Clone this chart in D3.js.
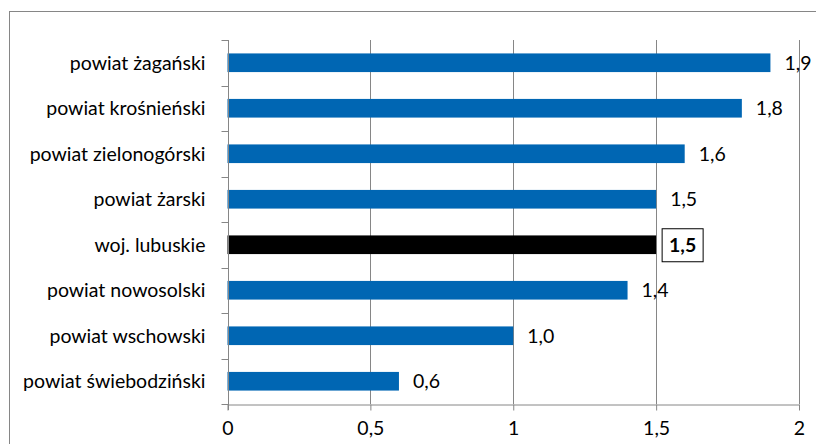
<!DOCTYPE html>
<html>
<head>
<meta charset="utf-8">
<script src="https://cdn.jsdelivr.net/npm/d3@7"></script>
<style>
  html, body { margin: 0; padding: 0; background: #fff; }
  svg { display: block; }
  text { font-family: Lato, "Open Sans", sans-serif; fill: #000; }
</style>
</head>
<body>
<svg id="chart" width="816" height="444"></svg>
<script>
// Regions (top to bottom) and their values
const categories = [
  "powiat żagański",
  "powiat krośnieński",
  "powiat zielonogórski",
  "powiat żarski",
  "woj. lubuskie",
  "powiat nowosolski",
  "powiat wschowski",
  "powiat świebodziński"
];
const values = [1.9, 1.8, 1.6, 1.5, 1.5, 1.4, 1.0, 0.6];
const highlighted = ["woj. lubuskie"];
const xTicks = [0, 0.5, 1, 1.5, 2];

const svg = d3.select("#chart");
const W = 816, H = 444;
const margin = { left: 227.5, right: 17, top: 40, bottom: 40 };
const FS = "19.5px";

const fmt = v => d3.format(".1f")(v).replace(".", ",");
const fmtTick = v => String(v).replace(".", ",");

// outer chart frame
svg.append("rect")
  .attr("x", 9.5).attr("y", 11.5)
  .attr("width", W).attr("height", H)
  .attr("fill", "none").attr("stroke", "#868686").attr("stroke-width", 1);

const x = d3.scaleLinear().domain([0, 2]).range([margin.left, W - margin.right]);
const y = d3.scaleBand().domain(categories)
  .range([margin.top, H - margin.bottom])
  .paddingInner(0.59).paddingOuter(0.295);
const yOuter = d3.scaleBand().domain(categories).range([margin.top, H - margin.bottom]);

const gridColor = "#868686";

// vertical gridlines
svg.append("g").selectAll("line")
  .data(xTicks.filter(t => t > 0))
  .join("line")
  .attr("x1", d => Math.round(x(d)) + 0.5).attr("x2", d => Math.round(x(d)) + 0.5)
  .attr("y1", margin.top).attr("y2", H - margin.bottom)
  .attr("stroke", gridColor);

// bars
svg.append("g").selectAll("rect")
  .data(categories)
  .join("rect")
  .attr("x", x(0))
  .attr("y", d => y(d))
  .attr("width", (d, i) => x(values[i]) - x(0))
  .attr("height", y.bandwidth())
  .attr("fill", d => highlighted.includes(d) ? "#000000" : "#0066b3");

// x axis
const xAxis = svg.append("g")
  .attr("transform", `translate(0,${Math.round(H - margin.bottom) + 0.5})`)
  .call(d3.axisBottom(x).tickValues(xTicks).tickFormat(fmtTick).tickSize(6).tickPadding(11).tickSizeOuter(0));
xAxis.select(".domain").attr("stroke", gridColor);
xAxis.selectAll(".tick line").attr("stroke", gridColor);
xAxis.selectAll("text").style("font-size", FS).style("font-family", "Lato, 'Open Sans', sans-serif");

// y axis with ticks on category boundaries
const yAxisG = svg.append("g").attr("transform", `translate(${Math.round(margin.left) + 0.5},0)`);
yAxisG.append("line")
  .attr("y1", margin.top).attr("y2", H - margin.bottom + 6)
  .attr("stroke", gridColor);
const bounds = categories.map(c => yOuter(c)).concat([H - margin.bottom]);
yAxisG.selectAll("line.tk")
  .data(bounds)
  .join("line").attr("class", "tk")
  .attr("x1", -7).attr("x2", 0)
  .attr("y1", d => Math.round(d) + 0.5).attr("y2", d => Math.round(d) + 0.5)
  .attr("stroke", gridColor);

// category labels
svg.append("g").selectAll("text")
  .data(categories)
  .join("text")
  .attr("x", margin.left - 22)
  .attr("y", d => y(d) + y.bandwidth() / 2)
  .attr("dy", "0.35em")
  .attr("text-anchor", "end")
  .style("font-size", FS)
  .text(d => d);

// value labels
const labels = svg.append("g").selectAll("g")
  .data(categories)
  .join("g")
  .attr("transform", (d, i) => `translate(${x(values[i])},${y(d) + y.bandwidth() / 2})`);

labels.each(function (d, i) {
  const g = d3.select(this);
  const hi = highlighted.includes(d);
  if (hi) {
    g.append("rect")
      .attr("x", 6).attr("y", -16)
      .attr("width", 41).attr("height", 33)
      .attr("fill", "#fff").attr("stroke", "#000").attr("stroke-width", 1);
    g.append("text")
      .attr("x", 26.5).attr("dy", "0.35em")
      .attr("text-anchor", "middle")
      .style("font-size", FS).style("font-weight", "bold")
      .text(fmt(values[i]));
  } else {
    g.append("text")
      .attr("x", 14).attr("dy", "0.35em")
      .style("font-size", FS)
      .text(fmt(values[i]));
  }
});
</script>
</body>
</html>
